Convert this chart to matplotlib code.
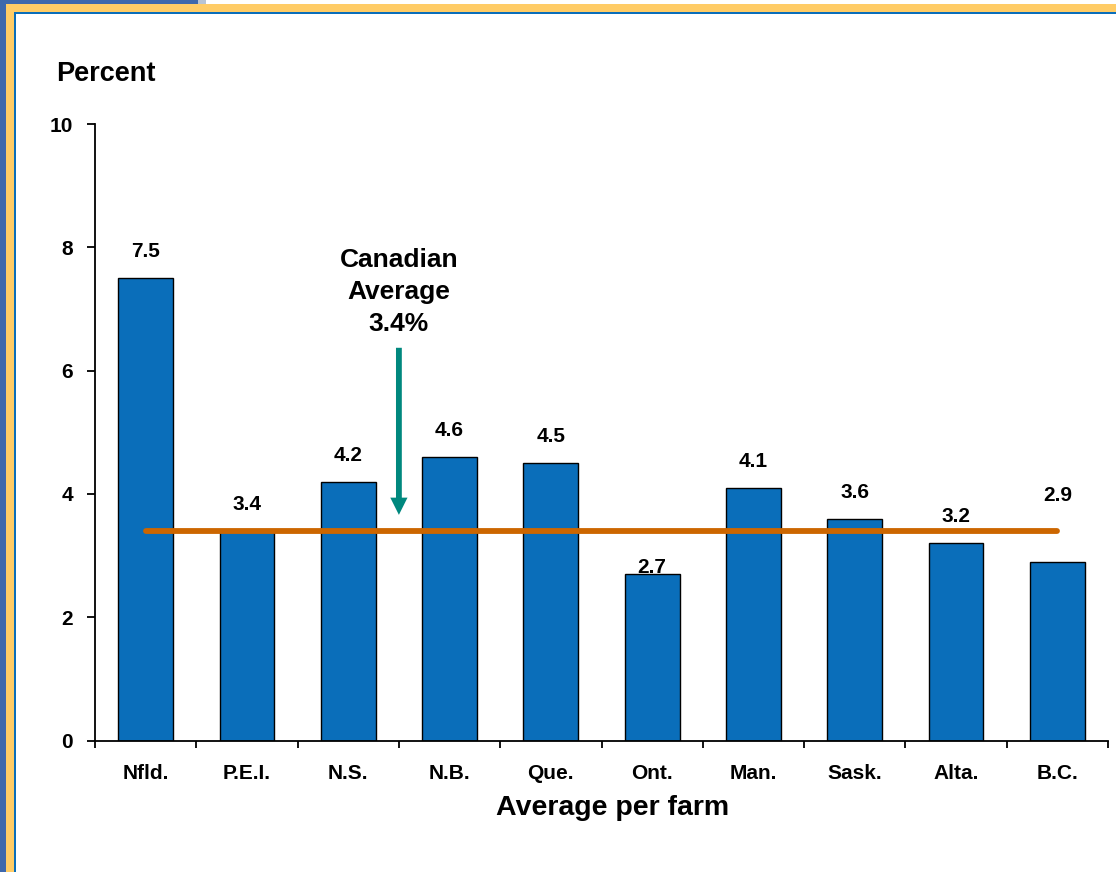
import matplotlib
matplotlib.use("Agg")
import matplotlib.pyplot as plt
from matplotlib.patches import Rectangle
import numpy as np

# Provincial values, percent (average per farm)
provinces = ["Nfld.", "P.E.I.", "N.S.", "N.B.", "Que.", "Ont.", "Man.", "Sask.", "Alta.", "B.C."]
values = [7.5, 3.4, 4.2, 4.6, 4.5, 2.7, 4.1, 3.6, 3.2, 2.9]
canadian_average = 3.4
y_ticks = [0, 2, 4, 6, 8, 10]

plt.rcParams["font.family"] = ["Liberation Sans", "DejaVu Sans"]
plt.rcParams["font.weight"] = "bold"

W, H = 1116, 872
fig = plt.figure(figsize=(W / 100, H / 100), dpi=100)
fig.patch.set_facecolor("white")


def px_rect(x0, y0, x1, y1, color):
    """Rectangle in pixel coordinates measured from the top-left corner."""
    fig.patches.append(Rectangle((x0 / W, 1 - y1 / H), (x1 - x0) / W, (y1 - y0) / H,
                                 transform=fig.transFigure, facecolor=color,
                                 edgecolor="none", zorder=-10))


# Slide frame: blue edge, gold band, thin blue inner rule
px_rect(0, 0, 6, H, "#3E68AC")
px_rect(0, 0, 198, 4, "#3E68AC")
px_rect(198, 0, 206, 4, "#B8C4D4")
px_rect(6, 4, W, 12, "#FFCC66")
px_rect(6, 4, 14, H, "#FFCC66")
px_rect(14, 12, W, 14, "#0A6EBA")
px_rect(14, 12, 16, H, "#0A6EBA")

ax_left, ax_right, ax_top, ax_bottom = 95, 1108, 124, 740.5
ax = fig.add_axes([ax_left / W, 1 - ax_bottom / H, (ax_right - ax_left) / W, (ax_bottom - ax_top) / H])
ax.set_facecolor("none")

x = np.arange(len(provinces))
bars = ax.bar(x, values, width=0.54, color="#0A6EBA", edgecolor="black", linewidth=1.0, zorder=2)

ax.set_xlim(-0.5, len(provinces) - 0.5)
ax.set_ylim(0, 10)

# Value labels above the bars (a couple are nudged by hand)
label_offsets = {"Ont.": 5, "B.C.": 47.5}
for xi, v, name in zip(x, values, provinces):
    ax.annotate(f"{v:.1f}", (xi, v), xytext=(0, label_offsets.get(name, 19)),
                textcoords="offset points", ha="center", va="center",
                fontsize=15, fontweight="bold", zorder=4)

# Canadian average reference line
ax.plot([x[0], x[-1]], [canadian_average, canadian_average], color="#CC6600",
        linewidth=4.2, solid_capstyle="round", zorder=3)

# Annotation and arrow pointing at the average line
ax.annotate("", xy=(2.5, 3.66), xytext=(2.5, 6.37),
            arrowprops=dict(arrowstyle="simple,head_width=0.62,head_length=0.62,tail_width=0.21",
                            mutation_scale=20, facecolor="#00887E", edgecolor="none",
                            shrinkA=0, shrinkB=0), zorder=4)
ax.text(2.5, 7.27, f"Canadian\nAverage\n{canadian_average:.1f}%", ha="center", va="center",
        fontsize=19, fontweight="bold", linespacing=1.42)

# Axes styling
for side in ("top", "right"):
    ax.spines[side].set_visible(False)
for side in ("left", "bottom"):
    ax.spines[side].set_linewidth(1.3)
    ax.spines[side].set_color("black")

ax.set_yticks(y_ticks)
ax.set_yticklabels([str(t) for t in y_ticks], fontsize=15, fontweight="bold")
ax.tick_params(axis="y", direction="out", length=6, width=1.3, pad=10)

ax.set_xticks(x)
ax.set_xticklabels(provinces, fontsize=15, fontweight="bold")
ax.tick_params(axis="x", which="major", length=0, pad=17)
ax.set_xticks(np.arange(-0.5, len(provinces)), minor=True)
ax.tick_params(axis="x", which="minor", direction="out", length=5, width=1.3)

fig.text(56 / W, 1 - 74 / H, "Percent", ha="left", va="center", fontsize=19.5, fontweight="bold")
fig.text(613 / W, 1 - 808 / H, "Average per farm", ha="center", va="center",
         fontsize=20.5, fontweight="bold")

fig.savefig("out.png", dpi=100, facecolor=fig.get_facecolor())
